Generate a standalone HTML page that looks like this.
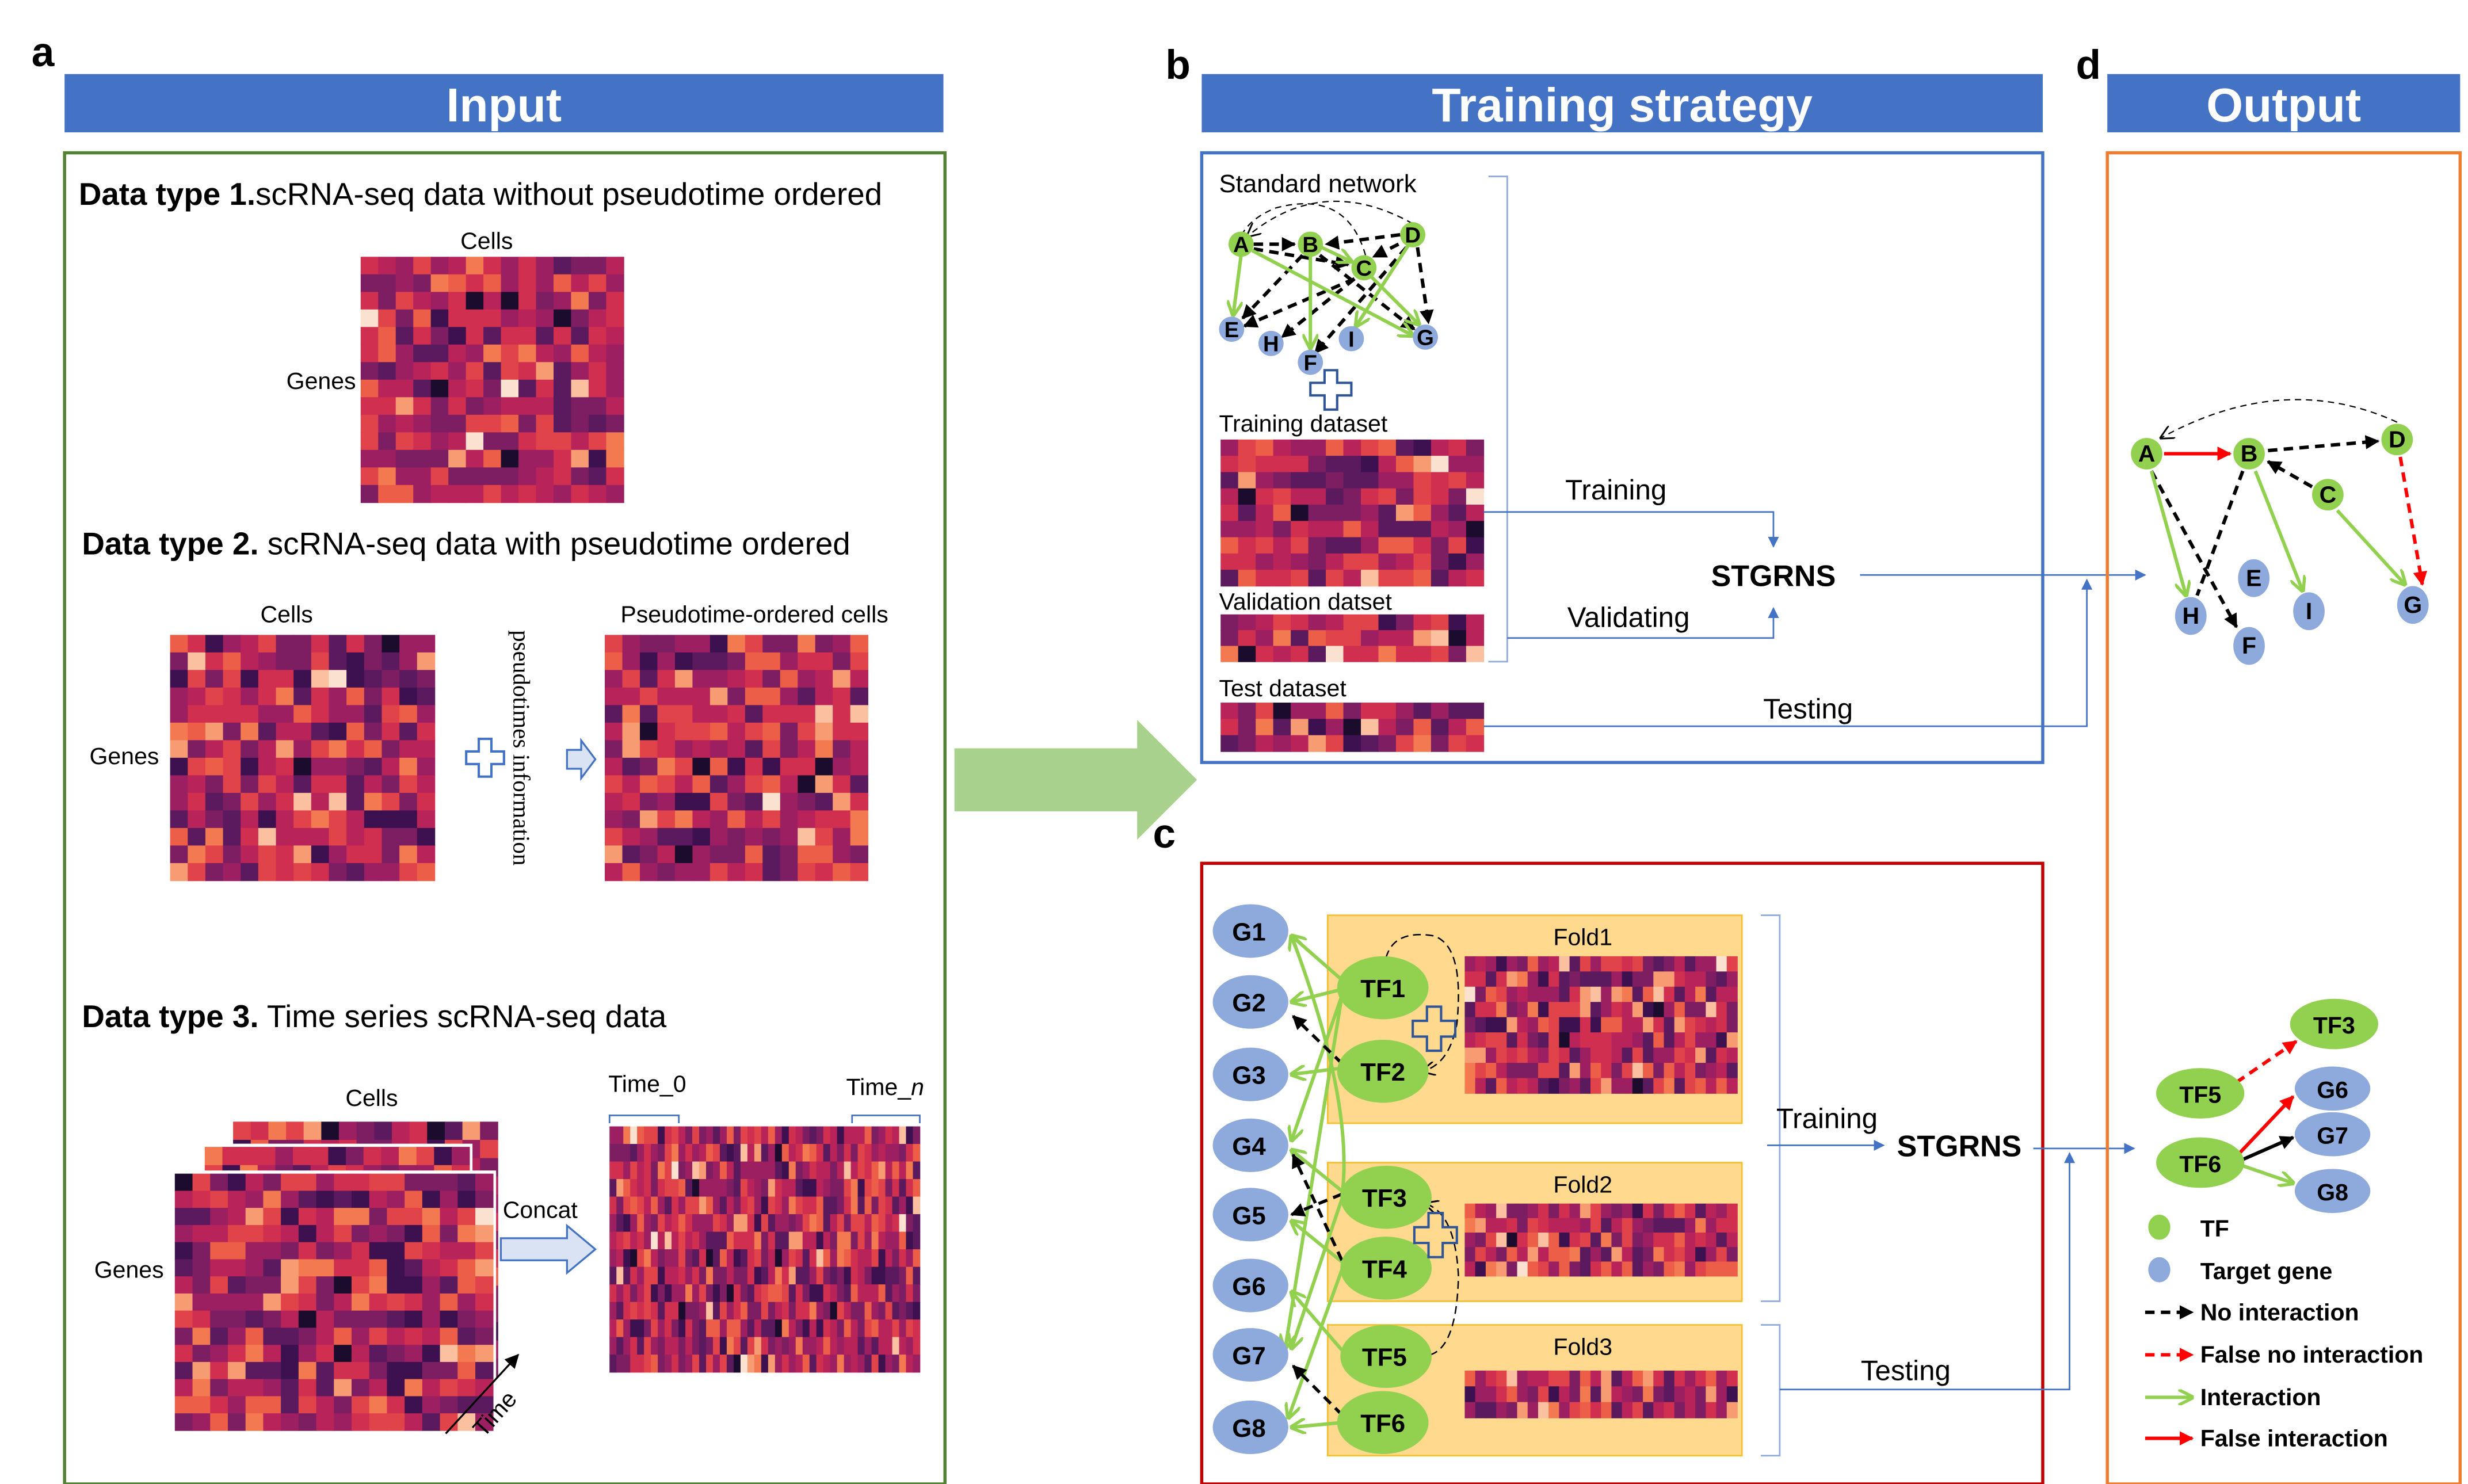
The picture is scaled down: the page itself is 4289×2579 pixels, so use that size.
<!DOCTYPE html>
<html><head><meta charset="utf-8">
<style>
html,body{margin:0;padding:0;background:#fff;}
svg{display:block;}
text{font-family:"Liberation Sans",Arial,sans-serif;}
</style></head>
<body>
<svg id="s" xmlns="http://www.w3.org/2000/svg" width="4289" height="2579" viewBox="0 0 1567 942" preserveAspectRatio="none">
<defs>
<marker id="mk" viewBox="0 0 10 10" refX="9" refY="5" markerWidth="9" markerHeight="9" markerUnits="userSpaceOnUse" orient="auto"><path d="M0,0L10,5L0,10z" fill="#000"/></marker>
<marker id="mg" viewBox="0 0 10 10" refX="9" refY="5" markerWidth="10" markerHeight="10" markerUnits="userSpaceOnUse" orient="auto"><path d="M0,0L10,5L0,10" fill="none" stroke="#92D050" stroke-width="2"/></marker>
<marker id="mr" viewBox="0 0 10 10" refX="9" refY="5" markerWidth="9" markerHeight="9" markerUnits="userSpaceOnUse" orient="auto"><path d="M0,0L10,5L0,10z" fill="#f00"/></marker>
<marker id="mb" viewBox="0 0 10 10" refX="9" refY="5" markerWidth="7" markerHeight="7" markerUnits="userSpaceOnUse" orient="auto"><path d="M0,0L10,5L0,10z" fill="#4472C4"/></marker>
<marker id="mt" viewBox="0 0 10 10" refX="9" refY="5" markerWidth="9" markerHeight="9" markerUnits="userSpaceOnUse" orient="auto"><path d="M0,0L10,5L0,10" fill="none" stroke="#000" stroke-width="1.2"/></marker>
</defs>
<rect width="1567" height="942" fill="#fff"/>
<g id="heat"></g>

<!-- Panel a -->
<text x="20" y="42" font-size="26" font-weight="bold">a</text>
<rect x="41" y="47" width="558" height="37" fill="#4472C4"/>
<text x="320" y="77" font-size="30" font-weight="bold" fill="#fff" text-anchor="middle">Input</text>
<rect x="41" y="97" width="559" height="845" fill="none" stroke="#548235" stroke-width="2"/>
<text x="50" y="130" font-size="20"><tspan font-weight="bold">Data type 1.</tspan>scRNA-seq data without pseudotime ordered</text>
<text x="309" y="158" font-size="15" text-anchor="middle">Cells</text>
<text x="226" y="247" font-size="15" text-anchor="end">Genes</text>
<text x="52" y="352" font-size="20"><tspan font-weight="bold">Data type 2.</tspan> scRNA-seq data with pseudotime ordered</text>
<text x="182" y="395" font-size="15" text-anchor="middle">Cells</text>
<text x="101" y="485" font-size="15" text-anchor="end">Genes</text>
<text x="479" y="395" font-size="15" text-anchor="middle">Pseudotime-ordered cells</text>
<path d="M304,469h8v8h8v8h-8v8h-8v-8h-8v-8h8z" fill="none" stroke="#4472C4" stroke-width="1.5"/>
<text transform="translate(326,400) rotate(90)" font-size="15" style="font-family:'Liberation Serif',serif">pseudotimes information</text>
<path d="M360,476h9v-6l9,12l-9,12v-6h-9z" fill="#DAE3F3" stroke="#4472C4" stroke-width="1.2"/>
<text x="52" y="652" font-size="20"><tspan font-weight="bold">Data type 3.</tspan> Time series scRNA-seq data</text>
<text x="236" y="702" font-size="15" text-anchor="middle">Cells</text>
<text x="104" y="811" font-size="15" text-anchor="end">Genes</text>
<line x1="283" y1="910" x2="329" y2="860" stroke="#000" stroke-width="1.2" marker-end="url(#mk)"/>
<text transform="translate(307,913) rotate(-48)" font-size="15">Time</text>
<text x="343" y="773" font-size="15" text-anchor="middle">Concat</text>
<path d="M318,786h42v-8l18,15l-18,15v-8h-42z" fill="#DAE3F3" stroke="#4472C4" stroke-width="1.2"/>
<text x="411" y="693" font-size="15" text-anchor="middle">Time_0</text>
<text x="562" y="695" font-size="15" text-anchor="middle">Time_<tspan font-style="italic">n</tspan></text>
<path d="M387,713v-5h44v5M541,713v-5h43v5" fill="none" stroke="#4472C4" stroke-width="1"/>

<!-- big arrow -->
<path d="M606,475h116v-18l38,38l-38,38v-18h-116z" fill="#A9D18E"/>

<!-- Panel b -->
<text x="740" y="50" font-size="26" font-weight="bold">b</text>
<rect x="763" y="47" width="534" height="37" fill="#4472C4"/>
<text x="1030" y="77" font-size="30" font-weight="bold" fill="#fff" text-anchor="middle">Training  strategy</text>
<rect x="763" y="97" width="534" height="387" fill="none" stroke="#4472C4" stroke-width="2"/>
<text x="774" y="122" font-size="16">Standard network</text>
<path d="M945,112h12v308h-12" fill="none" stroke="#8FAADC" stroke-width="1"/>
<g stroke-width="2.2">
<path d="M897,142 Q840,110 792,150" fill="none" stroke="#000" stroke-width="0.8" stroke-dasharray="4,3" marker-end="url(#mt)"/>
<path d="M867,162 Q855,120 810,132 Q795,138 789,148" fill="none" stroke="#000" stroke-width="0.8" stroke-dasharray="4,3"/>
<g stroke="#000" stroke-dasharray="6,4" fill="none">
<line x1="796" y1="155" x2="822" y2="155" marker-end="url(#mk)"/>
<line x1="796" y1="158" x2="856" y2="168" marker-end="url(#mk)"/>
<line x1="889" y1="149" x2="842" y2="155" marker-end="url(#mk)"/>
<line x1="888" y1="155" x2="872" y2="163" marker-end="url(#mk)"/>
<line x1="827" y1="162" x2="789" y2="202" marker-end="url(#mk)"/>
<line x1="860" y1="177" x2="790" y2="207" marker-end="url(#mk)"/>
<line x1="860" y1="177" x2="814" y2="214" marker-end="url(#mk)"/>
<line x1="893" y1="157" x2="835" y2="224" marker-end="url(#mk)"/>
<line x1="838" y1="162" x2="898" y2="209" marker-end="url(#mk)"/>
<line x1="900" y1="157" x2="907" y2="205" marker-end="url(#mk)"/>
</g>
<g stroke="#92D050" fill="none">
<line x1="788" y1="162" x2="783" y2="200" marker-end="url(#mg)"/>
<line x1="839" y1="157" x2="858" y2="166" marker-end="url(#mg)"/>
<line x1="832" y1="162" x2="832" y2="221" marker-end="url(#mg)"/>
<line x1="795" y1="159" x2="897" y2="213" marker-end="url(#mg)"/>
<line x1="871" y1="176" x2="901" y2="206" marker-end="url(#mg)"/>
<line x1="894" y1="156" x2="861" y2="207" marker-end="url(#mg)"/>
</g>
</g>
<g font-weight="bold" font-size="14" text-anchor="middle">
<circle cx="788" cy="155" r="8" fill="#92D050"/><text x="788" y="160">A</text>
<circle cx="832" cy="155" r="8" fill="#92D050"/><text x="832" y="160">B</text>
<circle cx="866" cy="170" r="8" fill="#92D050"/><text x="866" y="175">C</text>
<circle cx="897" cy="149" r="8" fill="#92D050"/><text x="897" y="154">D</text>
<circle cx="782" cy="209" r="8" fill="#8EA9DB"/><text x="782" y="214">E</text>
<circle cx="807" cy="218" r="8" fill="#8EA9DB"/><text x="807" y="223">H</text>
<circle cx="832" cy="230" r="8" fill="#8EA9DB"/><text x="832" y="235">F</text>
<circle cx="858" cy="215" r="8" fill="#8EA9DB"/><text x="858" y="220">I</text>
<circle cx="905" cy="214" r="8" fill="#8EA9DB"/><text x="905" y="219">G</text>
</g>
<path d="M841,235h8v8h9v8h-9v9h-8v-9h-9v-8h9z" fill="#fff" stroke="#2F5597" stroke-width="1.5"/>
<text x="774" y="274" font-size="15">Training dataset</text>
<text x="774" y="387" font-size="15">Validation datset</text>
<text x="774" y="442" font-size="15">Test dataset</text>
<g stroke="#4472C4" stroke-width="1" fill="none">
<path d="M942,325H1126V347" marker-end="url(#mb)"/>
<path d="M957,405H1126V386" marker-end="url(#mb)"/>
<path d="M1181,365H1362" marker-end="url(#mb)"/>
<path d="M942,461H1325V368" marker-end="url(#mb)"/>
</g>
<text x="1026" y="317" font-size="18" text-anchor="middle">Training</text>
<text x="1034" y="398" font-size="18" text-anchor="middle">Validating</text>
<text x="1126" y="372" font-size="19" font-weight="bold" text-anchor="middle">STGRNS</text>
<text x="1148" y="456" font-size="18" text-anchor="middle">Testing</text>

<!-- Panel c -->
<text x="732" y="538" font-size="26" font-weight="bold">c</text>
<rect x="763" y="548" width="534" height="394" fill="none" stroke="#C00000" stroke-width="2"/>
<g fill="#FFD98E" stroke="#F5C02E" stroke-width="1">
<rect x="843" y="581" width="263" height="132"/>
<rect x="843" y="738" width="263" height="88"/>
<rect x="843" y="841" width="263" height="83"/>
</g>
<g id="heat2"></g>
<text x="1005" y="600" font-size="15" text-anchor="middle">Fold1</text>
<text x="1005" y="757" font-size="15" text-anchor="middle">Fold2</text>
<text x="1005" y="860" font-size="15" text-anchor="middle">Fold3</text>
<path d="M1118,581h12v245h-12M1118,841h12v83h-12" fill="none" stroke="#8FAADC" stroke-width="1"/>
<g stroke="#92D050" stroke-width="2.2" fill="none">
<line x1="852" y1="622" x2="820" y2="594" marker-end="url(#mg)"/>
<line x1="852" y1="628" x2="820" y2="636" marker-end="url(#mg)"/>
<line x1="852" y1="632" x2="820" y2="724" marker-end="url(#mg)"/>
<line x1="852" y1="632" x2="816" y2="856" marker-end="url(#mg)"/>
<line x1="852" y1="678" x2="820" y2="682" marker-end="url(#mg)"/>
<path d="M852,760 Q860,700 820,594" marker-end="url(#mg)"/>
<line x1="852" y1="756" x2="820" y2="730" marker-end="url(#mg)"/>
<line x1="852" y1="761" x2="820" y2="856" marker-end="url(#mg)"/>
<line x1="852" y1="801" x2="820" y2="775" marker-end="url(#mg)"/>
<line x1="852" y1="806" x2="818" y2="900" marker-end="url(#mg)"/>
<line x1="852" y1="857" x2="820" y2="820" marker-end="url(#mg)"/>
<line x1="852" y1="903" x2="820" y2="906" marker-end="url(#mg)"/>
</g>
<g stroke="#000" stroke-width="2" stroke-dasharray="6,4" fill="none">
<line x1="852" y1="675" x2="821" y2="645" marker-end="url(#mk)"/>
<line x1="852" y1="758" x2="820" y2="771" marker-end="url(#mk)"/>
<line x1="852" y1="800" x2="821" y2="733" marker-end="url(#mk)"/>
<line x1="852" y1="898" x2="821" y2="867" marker-end="url(#mk)"/>
</g>
<path d="M880,608 Q885,590 910,594 Q930,600 925,650 Q920,676 903,680" fill="none" stroke="#000" stroke-width="0.9" stroke-dasharray="5,3" marker-end="url(#mt)"/>
<path d="M908,860 Q925,855 926,810 Q924,770 905,764" fill="none" stroke="#000" stroke-width="0.9" stroke-dasharray="5,3" marker-end="url(#mt)"/>
<g font-weight="bold" font-size="16" text-anchor="middle">
<g fill="#8EA9DB">
<ellipse cx="794" cy="591" rx="24" ry="17"/><ellipse cx="794" cy="636" rx="24" ry="17"/><ellipse cx="794" cy="682" rx="24" ry="17"/><ellipse cx="794" cy="727" rx="24" ry="17"/>
<ellipse cx="794" cy="771" rx="24" ry="17"/><ellipse cx="794" cy="816" rx="24" ry="17"/><ellipse cx="794" cy="860" rx="24" ry="17"/><ellipse cx="794" cy="906" rx="24" ry="17"/>
</g>
<text x="793" y="597">G1</text><text x="793" y="642">G2</text><text x="793" y="688">G3</text><text x="793" y="733">G4</text>
<text x="793" y="777">G5</text><text x="793" y="822">G6</text><text x="793" y="866">G7</text><text x="793" y="912">G8</text>
<g fill="#92D050">
<ellipse cx="878" cy="627" rx="29" ry="20"/><ellipse cx="878" cy="680" rx="29" ry="20"/><ellipse cx="880" cy="760" rx="29" ry="20"/>
<ellipse cx="880" cy="805" rx="29" ry="20"/><ellipse cx="880" cy="861" rx="29" ry="20"/><ellipse cx="878" cy="903" rx="29" ry="20"/>
</g>
<text x="878" y="633">TF1</text><text x="878" y="686">TF2</text><text x="879" y="766">TF3</text>
<text x="879" y="811">TF4</text><text x="879" y="867">TF5</text><text x="878" y="909">TF6</text>
</g>
<path d="M906,639h9v9h9v10h-9v9h-9v-9h-9v-10h9z" fill="none" stroke="#2F5597" stroke-width="1.5"/>
<path d="M907,770h9v9h9v10h-9v9h-9v-9h-9v-10h9z" fill="none" stroke="#2F5597" stroke-width="1.5"/>
<g stroke="#4472C4" stroke-width="1" fill="none">
<path d="M1122,727H1196" marker-end="url(#mb)"/>
<path d="M1291,729H1355" marker-end="url(#mb)"/>
<path d="M1130,882H1314V732" marker-end="url(#mb)"/>
</g>
<text x="1160" y="716" font-size="18" text-anchor="middle">Training</text>
<text x="1244" y="734" font-size="19" font-weight="bold" text-anchor="middle">STGRNS</text>
<text x="1210" y="876" font-size="18" text-anchor="middle">Testing</text>

<!-- Panel d -->
<text x="1318" y="50" font-size="26" font-weight="bold">d</text>
<rect x="1338" y="47" width="224" height="37" fill="#4472C4"/>
<text x="1450" y="77" font-size="30" font-weight="bold" fill="#fff" text-anchor="middle">Output</text>
<rect x="1338" y="97" width="224" height="845" fill="none" stroke="#ED7D31" stroke-width="2"/>
<path d="M1522,268 Q1450,235 1372,278" fill="none" stroke="#000" stroke-width="0.8" stroke-dasharray="4,3" marker-end="url(#mt)"/>
<g stroke-width="2.2" fill="none">
<line x1="1374" y1="288" x2="1416" y2="288" stroke="#f00" marker-end="url(#mr)"/>
<line x1="1440" y1="286" x2="1510" y2="280" stroke="#000" stroke-dasharray="6,4" marker-end="url(#mk)"/>
<line x1="1468" y1="309" x2="1440" y2="293" stroke="#000" stroke-dasharray="6,4" marker-end="url(#mk)"/>
<line x1="1366" y1="299" x2="1420" y2="398" stroke="#000" stroke-dasharray="6,4" marker-end="url(#mk)"/>
<line x1="1424" y1="299" x2="1395" y2="378" stroke="#000" stroke-dasharray="6,4"/>
<line x1="1366" y1="299" x2="1388" y2="378" stroke="#92D050" marker-end="url(#mg)"/>
<line x1="1432" y1="299" x2="1462" y2="375" stroke="#92D050" marker-end="url(#mg)"/>
<line x1="1484" y1="324" x2="1527" y2="371" stroke="#92D050" marker-end="url(#mg)"/>
<line x1="1524" y1="290" x2="1538" y2="371" stroke="#f00" stroke-dasharray="6,4" marker-end="url(#mr)"/>
</g>
<g font-weight="bold" font-size="15" text-anchor="middle">
<circle cx="1363" cy="288" r="10" fill="#92D050"/><text x="1363" y="293">A</text>
<circle cx="1428" cy="288" r="10" fill="#92D050"/><text x="1428" y="293">B</text>
<circle cx="1478" cy="314" r="10" fill="#92D050"/><text x="1478" y="319">C</text>
<circle cx="1522" cy="279" r="10" fill="#92D050"/><text x="1522" y="284">D</text>
<ellipse cx="1391" cy="391" rx="10" ry="12" fill="#8EA9DB"/><text x="1391" y="396">H</text>
<ellipse cx="1431" cy="367" rx="10" ry="12" fill="#8EA9DB"/><text x="1431" y="372">E</text>
<ellipse cx="1466" cy="388" rx="10" ry="12" fill="#8EA9DB"/><text x="1466" y="393">I</text>
<ellipse cx="1428" cy="410" rx="10" ry="12" fill="#8EA9DB"/><text x="1428" y="415">F</text>
<ellipse cx="1532" cy="384" rx="10" ry="12" fill="#8EA9DB"/><text x="1532" y="389">G</text>
</g>
<g stroke-width="2.2" fill="none">
<line x1="1420" y1="687" x2="1458" y2="661" stroke="#f00" stroke-dasharray="6,4" marker-end="url(#mr)"/>
<line x1="1420" y1="734" x2="1456" y2="696" stroke="#f00" marker-end="url(#mr)"/>
<line x1="1424" y1="736" x2="1456" y2="722" stroke="#000" marker-end="url(#mk)"/>
<line x1="1424" y1="740" x2="1456" y2="751" stroke="#92D050" marker-end="url(#mg)"/>
</g>
<g font-weight="bold" font-size="15" text-anchor="middle">
<ellipse cx="1482" cy="650" rx="28" ry="16" fill="#92D050"/><text x="1482" y="656">TF3</text>
<ellipse cx="1397" cy="694" rx="28" ry="16" fill="#92D050"/><text x="1397" y="700">TF5</text>
<ellipse cx="1397" cy="738" rx="28" ry="16" fill="#92D050"/><text x="1397" y="744">TF6</text>
<ellipse cx="1481" cy="691" rx="24" ry="14" fill="#8EA9DB"/><text x="1481" y="697">G6</text>
<ellipse cx="1481" cy="720" rx="24" ry="14" fill="#8EA9DB"/><text x="1481" y="726">G7</text>
<ellipse cx="1481" cy="756" rx="24" ry="14" fill="#8EA9DB"/><text x="1481" y="762">G8</text>
</g>
<ellipse cx="1371" cy="779" rx="7" ry="8" fill="#92D050"/>
<ellipse cx="1371" cy="806" rx="7" ry="8" fill="#8EA9DB"/>
<g stroke-width="2.2" fill="none">
<line x1="1362" y1="833" x2="1392" y2="833" stroke="#000" stroke-dasharray="6,4" marker-end="url(#mk)"/>
<line x1="1362" y1="860" x2="1392" y2="860" stroke="#f00" stroke-dasharray="6,4" marker-end="url(#mr)"/>
<line x1="1362" y1="887" x2="1392" y2="887" stroke="#92D050" marker-end="url(#mg)"/>
<line x1="1362" y1="913" x2="1392" y2="913" stroke="#f00" marker-end="url(#mr)"/>
</g>
<g font-weight="bold" font-size="15">
<text x="1397" y="785">TF</text>
<text x="1397" y="812">Target gene</text>
<text x="1397" y="838">No interaction</text>
<text x="1397" y="865">False no interaction</text>
<text x="1397" y="892">Interaction</text>
<text x="1397" y="918">False interaction</text>
</g>
</svg>
<script>
(function(){
var seed=12345;function r(){seed=(seed*1103515245+12345)%2147483648;return seed/2147483648;}
var pal=["#1b0c2e","#3d1150","#5c1a5e","#7d1e63","#9c1f61","#b8235a","#d02f4f","#e1434a","#ec5e47","#f37a50","#f79c72","#fac0a0","#fbe2d0"];
var w=[1,4,7,10,10,10,9,7,5,3,2,1,0.6];var tot=0;w.forEach(function(x){tot+=x;});
function pick(){var t=r()*tot;for(var i=0;i<w.length;i++){t-=w[i];if(t<=0)return pal[i];}return pal[6];}
var ns="http://www.w3.org/2000/svg";
function hm(g,x,y,W,H,c,rw,border){
if(border){var b=document.createElementNS(ns,'rect');b.setAttribute('x',x-2);b.setAttribute('y',y-2);b.setAttribute('width',W+4);b.setAttribute('height',H+4);b.setAttribute('fill','#fff');g.appendChild(b);}
var cw=W/c,rh=H/rw;for(var i=0;i<c;i++)for(var j=0;j<rw;j++){var e=document.createElementNS(ns,'rect');e.setAttribute('x',(x+i*cw).toFixed(2));e.setAttribute('y',(y+j*rh).toFixed(2));e.setAttribute('width',(cw+0.3).toFixed(2));e.setAttribute('height',(rh+0.3).toFixed(2));e.setAttribute('fill',pick());g.appendChild(e);}}
var g=document.getElementById('heat'), g2=document.getElementById('heat2');
hm(g,229,163,167,156,15,14);
hm(g,108,403,168,156,15,14);
hm(g,384,403,167,156,15,14);
hm(g,148,712,168,162,15,14);
hm(g,130,728,168,162,15,14,true);
hm(g,111,745,202,163,18,15,true);
hm(g,387,715,197,156,45,14);
hm(g,775,279,167,93,15,9);
hm(g,775,390,167,30,15,3);
hm(g,775,446,167,31,15,3);
hm(g2,930,607,173,87,26,9);
hm(g2,930,764,173,46,26,5);
hm(g2,930,870,173,30,26,3);
})();
</script>
</body></html>
